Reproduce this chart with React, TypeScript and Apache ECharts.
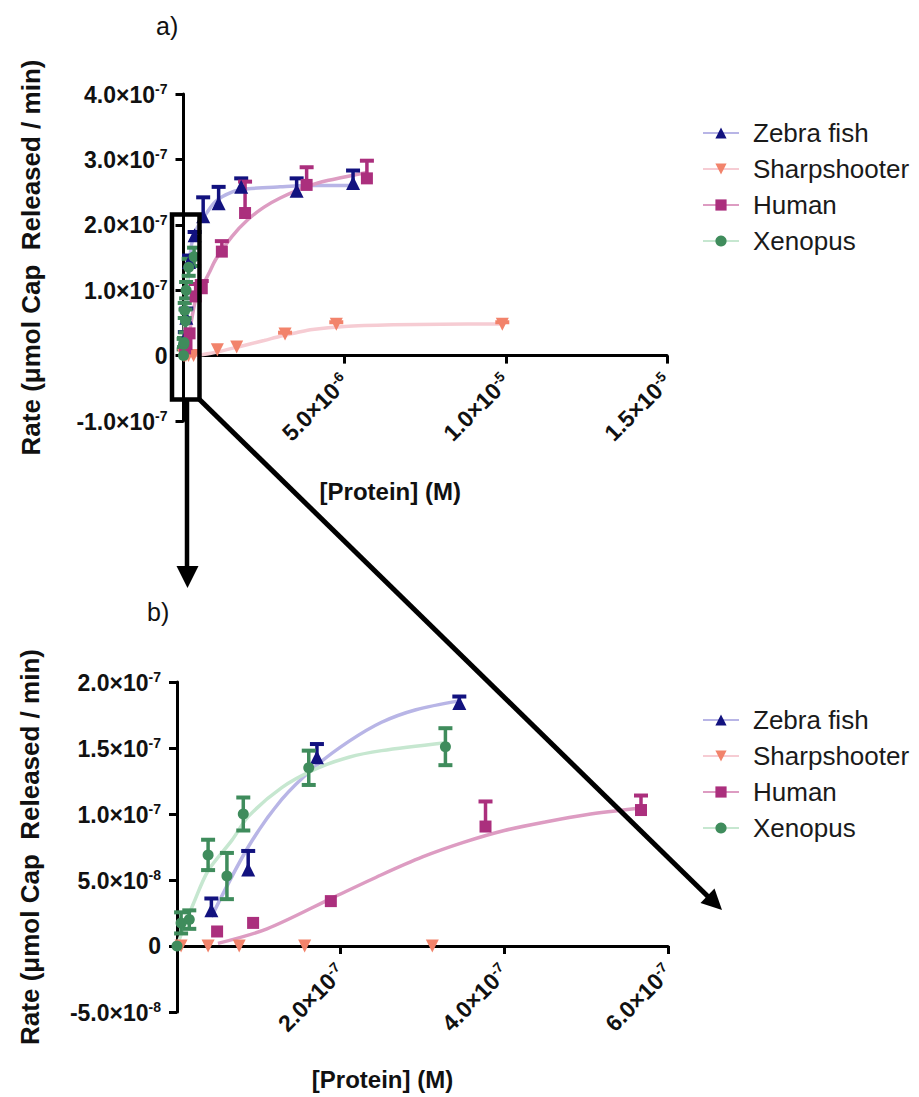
import React, { useEffect, useRef } from 'react';
import * as echarts from 'echarts';

const FONT = "'Liberation Sans', Arial, Helvetica, sans-serif";
const SERIES_NAMES = ['Zebra fish', 'Sharpshooter', 'Human', 'Xenopus'];

// ---- measured points: x = [Protein] (M), y = rate, err = error bar half-length
const zebraX = [4.2e-8, 8.7e-8, 1.71e-7, 3.45e-7, 6.1e-7, 1.09e-6, 1.79e-6, 3.51e-6, 5.26e-6];
const zebraY = [2.7e-8, 5.8e-8, 1.43e-7, 1.84e-7, 2.13e-7, 2.33e-7, 2.58e-7, 2.52e-7, 2.64e-7];
const zebraErr = [0.9e-8, 1.4e-8, 1.0e-8, 0.5e-8, 2.9e-8, 2.5e-8, 1.3e-8, 1.9e-8, 1.9e-8];

const sharpX = [5e-9, 3.8e-8, 7.6e-8, 1.56e-7, 3.12e-7, 1.05e-6, 1.65e-6, 3.15e-6, 4.74e-6, 9.89e-6];
const sharpY = [0, 0, 0, 0, 0, 9e-9, 1.3e-8, 3.3e-8, 4.8e-8, 4.8e-8];
const sharpErr = [0, 0, 0, 0, 0, 0, 0, 2e-9, 3e-9, 3e-9];

const humanX = [4.9e-8, 9.3e-8, 1.88e-7, 3.77e-7, 5.67e-7, 1.19e-6, 1.91e-6, 3.82e-6, 5.69e-6];
const humanY = [1.1e-8, 1.75e-8, 3.4e-8, 9.05e-8, 1.03e-7, 1.59e-7, 2.18e-7, 2.61e-7, 2.71e-7];
const humanErr = [0, 0, 0, 1.9e-8, 1.1e-8, 1.6e-8, 4.8e-8, 2.7e-8, 2.7e-8];

const xenoX = [0, 5e-9, 1.5e-8, 3.8e-8, 6.1e-8, 8.1e-8, 1.61e-7, 3.28e-7];
const xenoY = [0, 1.75e-8, 2.0e-8, 6.9e-8, 5.3e-8, 1.0e-7, 1.35e-7, 1.51e-7];
const xenoErr = [0, 0.8e-8, 0.7e-8, 1.15e-8, 1.75e-8, 1.25e-8, 1.3e-8, 1.4e-8];

// ---- fitted curves
const zebraFitAX = [4.2e-8, 8.7e-8, 1.7e-7, 2.5e-7, 3.45e-7, 5e-7, 7e-7, 1.0e-6, 1.5e-6, 2.0e-6, 3.0e-6, 4.0e-6, 5.26e-6];
const zebraFitAY = [2.2e-8, 7.5e-8, 1.36e-7, 1.7e-7, 1.86e-7, 2.03e-7, 2.17e-7, 2.36e-7, 2.5e-7, 2.55e-7, 2.58e-7, 2.6e-7, 2.6e-7];
const zebraFitBX = [4.2e-8, 8.7e-8, 1.28e-7, 1.69e-7, 2.1e-7, 2.5e-7, 2.92e-7, 3.45e-7];
const zebraFitBY = [2.2e-8, 7.5e-8, 1.11e-7, 1.36e-7, 1.55e-7, 1.695e-7, 1.79e-7, 1.857e-7];

const sharpFitX = [0, 5e-7, 1e-6, 1.5e-6, 2e-6, 2.5e-6, 3e-6, 3.5e-6, 4e-6, 5e-6, 6.5e-6, 8e-6, 9.89e-6];
const sharpFitY = [0, 1e-9, 5e-9, 1.1e-8, 1.7e-8, 2.3e-8, 2.95e-8, 3.5e-8, 4.0e-8, 4.45e-8, 4.7e-8, 4.8e-8, 4.85e-8];

const humanFitAX = [4.9e-8, 1e-7, 1.9e-7, 2.7e-7, 3.8e-7, 5.7e-7, 8e-7, 1e-6, 1.5e-6, 2e-6, 2.5e-6, 3e-6, 3.8e-6, 4.5e-6, 5.69e-6];
const humanFitAY = [2e-9, 1.3e-8, 3.65e-8, 6e-8, 8.55e-8, 1.045e-7, 1.27e-7, 1.47e-7, 1.82e-7, 2.08e-7, 2.27e-7, 2.41e-7, 2.58e-7, 2.68e-7, 2.8e-7];
const humanFitBX = [5e-8, 1.1e-7, 1.9e-7, 2.5e-7, 3.0e-7, 3.5e-7, 4.0e-7, 4.5e-7, 5.0e-7, 5.67e-7];
const humanFitBY = [2e-9, 1.3e-8, 3.65e-8, 5.4e-8, 6.75e-8, 7.85e-8, 8.75e-8, 9.4e-8, 9.95e-8, 1.045e-7];

const xenoFitX = [0, 1e-8, 2e-8, 3.8e-8, 6.7e-8, 8.7e-8, 1.28e-7, 1.69e-7, 2.1e-7, 2.5e-7, 3.28e-7];
const xenoFitY = [0, 1.7e-8, 3.2e-8, 5.7e-8, 8.0e-8, 9.8e-8, 1.2e-7, 1.34e-7, 1.43e-7, 1.48e-7, 1.54e-7];

// ---- axis ranges
const A_X = { min: 0, max: 1.5e-5, interval: 5e-6 };
const A_Y = { min: -1e-7, max: 4e-7, interval: 1e-7 };
const B_X = { min: 0, max: 6e-7, interval: 2e-7 };
const B_Y = { min: -5e-8, max: 2e-7, interval: 5e-8 };

const COLORS = {
  zebra: { mark: '#12127f', line: '#b8b5e6' },
  sharp: { mark: '#f2836b', line: '#f6ccd3' },
  human: { mark: '#ab2f7d', line: '#dd9cc2' },
  xeno: { mark: '#3f8c5c', line: '#c6e7d0' },
};

// grid boxes (px)
const GRID_A = { left: 183.5, top: 94, width: 483.5, height: 327 };
const GRID_B = { left: 177, top: 682, width: 491, height: 330 };

function sci(v: number, hideZero: boolean): string {
  if (Math.abs(v) < 1e-15) return hideZero ? '' : '{m|0}';
  const e = Math.floor(Math.log10(Math.abs(v)) + 1e-9);
  const m = v / Math.pow(10, e);
  return `{m|${m.toFixed(1)}×10}{s|${e}}`;
}

function richFor(size: number) {
  return {
    m: { fontSize: size, fontWeight: 'bold', fontFamily: FONT, color: '#111', verticalAlign: 'bottom' },
    s: { fontSize: Math.round(size * 0.6), fontWeight: 'bold', fontFamily: FONT, color: '#111', verticalAlign: 'bottom', padding: [0, 0, Math.round(size * 0.45), 0] },
  };
}

const axisTickStyle = { show: true, length: 8, lineStyle: { color: '#000', width: 3 } };

function zip(xs: number[], ys: number[]) {
  return xs.map((x, i) => [x, ys[i]]);
}

function makeFit(name: string, xs: number[], ys: number[], c: { mark: string; line: string }, symbol: string, rotate: number, axis: number) {
  return {
    type: 'line', name, xAxisIndex: axis, yAxisIndex: axis, data: zip(xs, ys),
    smooth: 0.3, showSymbol: false, symbol, symbolRotate: rotate,
    lineStyle: { color: c.line, width: 3.5 }, itemStyle: { color: c.mark }, z: 2, silent: true,
  };
}

function makeErr(name: string, xs: number[], ys: number[], errs: number[], color: string, both: boolean, axis: number, keep: (x: number, y: number) => boolean) {
  const data: number[][] = [];
  xs.forEach((x, i) => {
    if (errs[i] > 0 && keep(x, ys[i])) data.push([x, ys[i], both ? ys[i] - errs[i] : ys[i], ys[i] + errs[i]]);
  });
  return {
    type: 'custom', name, xAxisIndex: axis, yAxisIndex: axis, z: 3, silent: true, data,
    renderItem: (_p: any, api: any) => {
      const x = api.value(0);
      const pHi = api.coord([x, api.value(3)]);
      const pLo = api.coord([x, api.value(2)]);
      const w = 7;
      const style = { stroke: color, lineWidth: 3.5 };
      const children: any[] = [
        { type: 'line', shape: { x1: pLo[0], y1: pLo[1], x2: pHi[0], y2: pHi[1] }, style },
        { type: 'line', shape: { x1: pHi[0] - w, y1: pHi[1], x2: pHi[0] + w, y2: pHi[1] }, style: { ...style, lineWidth: 4 } },
      ];
      if (both) children.push({ type: 'line', shape: { x1: pLo[0] - w, y1: pLo[1], x2: pLo[0] + w, y2: pLo[1] }, style: { ...style, lineWidth: 4 } });
      return { type: 'group', children };
    },
  };
}

function makePts(name: string, xs: number[], ys: number[], color: string, symbol: string, size: number, rotate: number, axis: number, keep: (x: number, y: number) => boolean) {
  const data = zip(xs, ys).filter((p) => keep(p[0], p[1]));
  return {
    type: 'scatter', name, xAxisIndex: axis, yAxisIndex: axis, data, symbol, symbolSize: size, symbolRotate: rotate,
    itemStyle: { color, opacity: 1 }, z: 4, silent: true,
  };
}

const keepA = (_x: number, _y: number) => true;
const keepB = (x: number, y: number) => x <= B_X.max && y <= B_Y.max;

function buildOption() {
  const series: any[] = [
    makeFit('Zebra fish', zebraFitAX, zebraFitAY, COLORS.zebra, 'triangle', 0, 0),
    makeFit('Sharpshooter', sharpFitX, sharpFitY, COLORS.sharp, 'triangle', 180, 0),
    makeFit('Human', humanFitAX, humanFitAY, COLORS.human, 'rect', 0, 0),
    makeFit('Xenopus', xenoFitX, xenoFitY, COLORS.xeno, 'circle', 0, 0),
    makeFit('Zebra fish', zebraFitBX, zebraFitBY, COLORS.zebra, 'triangle', 0, 1),
    makeFit('Human', humanFitBX, humanFitBY, COLORS.human, 'rect', 0, 1),
    makeFit('Xenopus', xenoFitX, xenoFitY, COLORS.xeno, 'circle', 0, 1),
  ];
  const panels: [number, (x: number, y: number) => boolean][] = [[0, keepA], [1, keepB]];
  panels.forEach(([ax, keep]) => {
    series.push(makeErr('zebra err', zebraX, zebraY, zebraErr, COLORS.zebra.mark, false, ax, keep));
    series.push(makeErr('sharp err', sharpX, sharpY, sharpErr, COLORS.sharp.mark, false, ax, keep));
    series.push(makeErr('human err', humanX, humanY, humanErr, COLORS.human.mark, false, ax, keep));
    series.push(makeErr('xeno err', xenoX, xenoY, xenoErr, COLORS.xeno.mark, true, ax, keep));
    series.push(makePts('zebra pts', zebraX, zebraY, COLORS.zebra.mark, 'triangle', 14, 0, ax, keep));
    series.push(makePts('sharp pts', sharpX, sharpY, COLORS.sharp.mark, 'triangle', 13, 180, ax, keep));
    series.push(makePts('human pts', humanX, humanY, COLORS.human.mark, 'rect', 12, 0, ax, keep));
    series.push(makePts('xeno pts', xenoX, xenoY, COLORS.xeno.mark, 'circle', 11, 0, ax, keep));
  });

  const legendBase = {
    data: SERIES_NAMES, orient: 'vertical', left: 697, itemWidth: 36, itemHeight: 14, itemGap: 10,
    selectedMode: false,
    textStyle: { fontSize: 26, fontFamily: FONT, color: '#1a1a1a', lineHeight: 26, padding: [0, 0, 0, 9] },
  };

  // x axis sits on y = 0: shift it up from the grid bottom by the pixel height of (0 - yMin)
  const zeroOffset = (g: any, r: any) => -(g.height * (0 - r.min)) / (r.max - r.min);

  const xAxisCommon = (r: any, yr: any, g: any, gi: number, padRight: number, gap: number) => ({
    type: 'value', gridIndex: gi, min: r.min, max: r.max, interval: r.interval,
    position: 'bottom', offset: zeroOffset(g, yr),
    axisLine: { show: true, onZero: false, lineStyle: { color: '#000', width: 3 } },
    axisTick: axisTickStyle, splitLine: { show: false },
    axisLabel: { rotate: 45, margin: 22, formatter: (v: number) => sci(v, true), rich: richFor(23) },
    name: '[Protein] (M)', nameLocation: 'middle', nameGap: gap, nameMoveOverlap: false,
    nameTextStyle: { fontSize: 24, fontWeight: 'bold', fontFamily: FONT, color: '#111', padding: [0, padRight, 0, 0] },
  });
  const yAxisCommon = (r: any, gi: number, gap: number) => ({
    type: 'value', gridIndex: gi, min: r.min, max: r.max, interval: r.interval,
    axisLine: { show: true, onZero: false, lineStyle: { color: '#000', width: 3 } },
    axisTick: axisTickStyle, splitLine: { show: false },
    axisLabel: { margin: 16, formatter: (v: number) => sci(v, false), rich: richFor(23) },
    name: 'Rate (μmol Cap  Released / min)', nameLocation: 'middle', nameGap: gap, nameMoveOverlap: false,
    nameTextStyle: { fontSize: 26, fontWeight: 'bold', fontFamily: FONT, color: '#111' },
  });

  return {
    animation: false,
    backgroundColor: '#ffffff',
    textStyle: { fontFamily: FONT },
    grid: [
      { ...GRID_A, containLabel: false },
      { ...GRID_B, containLabel: false },
    ],
    xAxis: [xAxisCommon(A_X, A_Y, GRID_A, 0, 70, 124), xAxisCommon(B_X, B_Y, GRID_B, 1, 80, 121)],
    yAxis: [yAxisCommon(A_Y, 0, 140), yAxisCommon(B_Y, 1, 134)],
    legend: [
      { ...legendBase, top: 115 },
      { ...legendBase, top: 702 },
    ],
    series,
    graphic: [
      { type: 'text', left: 156, top: 13, style: { text: 'a)', fontSize: 25, fontFamily: FONT, fill: '#111' } },
      { type: 'text', left: 147, top: 599, style: { text: 'b)', fontSize: 25, fontFamily: FONT, fill: '#111' } },
      { type: 'rect', z: 100, shape: { x: 172, y: 214.5, width: 27.5, height: 185 }, style: { fill: 'none', stroke: '#000', lineWidth: 4.5 } },
      { type: 'line', z: 100, shape: { x1: 187, y1: 400, x2: 187, y2: 570 }, style: { stroke: '#000', lineWidth: 4.5 } },
      { type: 'polygon', z: 100, shape: { points: [[176.5, 566], [198.5, 566], [187.5, 588]] }, style: { fill: '#000' } },
      { type: 'line', z: 100, shape: { x1: 199.5, y1: 399.5, x2: 709, y2: 897.5 }, style: { stroke: '#000', lineWidth: 5 } },
      { type: 'polygon', z: 100, shape: { points: [[722, 910], [700.5, 903], [714.5, 888.5]] }, style: { fill: '#000' } },
    ],
  };
}

export default function App() {
  const ref = useRef<HTMLDivElement>(null);
  useEffect(() => {
    document.body.style.margin = '0';
    const chart = echarts.init(ref.current as HTMLDivElement, null, { renderer: 'svg' });
    chart.setOption(buildOption() as any);
    return () => chart.dispose();
  }, []);
  return <div ref={ref} style={{ position: 'absolute', left: 0, top: 0, width: 919, height: 1097, background: '#fff' }} />;
}
